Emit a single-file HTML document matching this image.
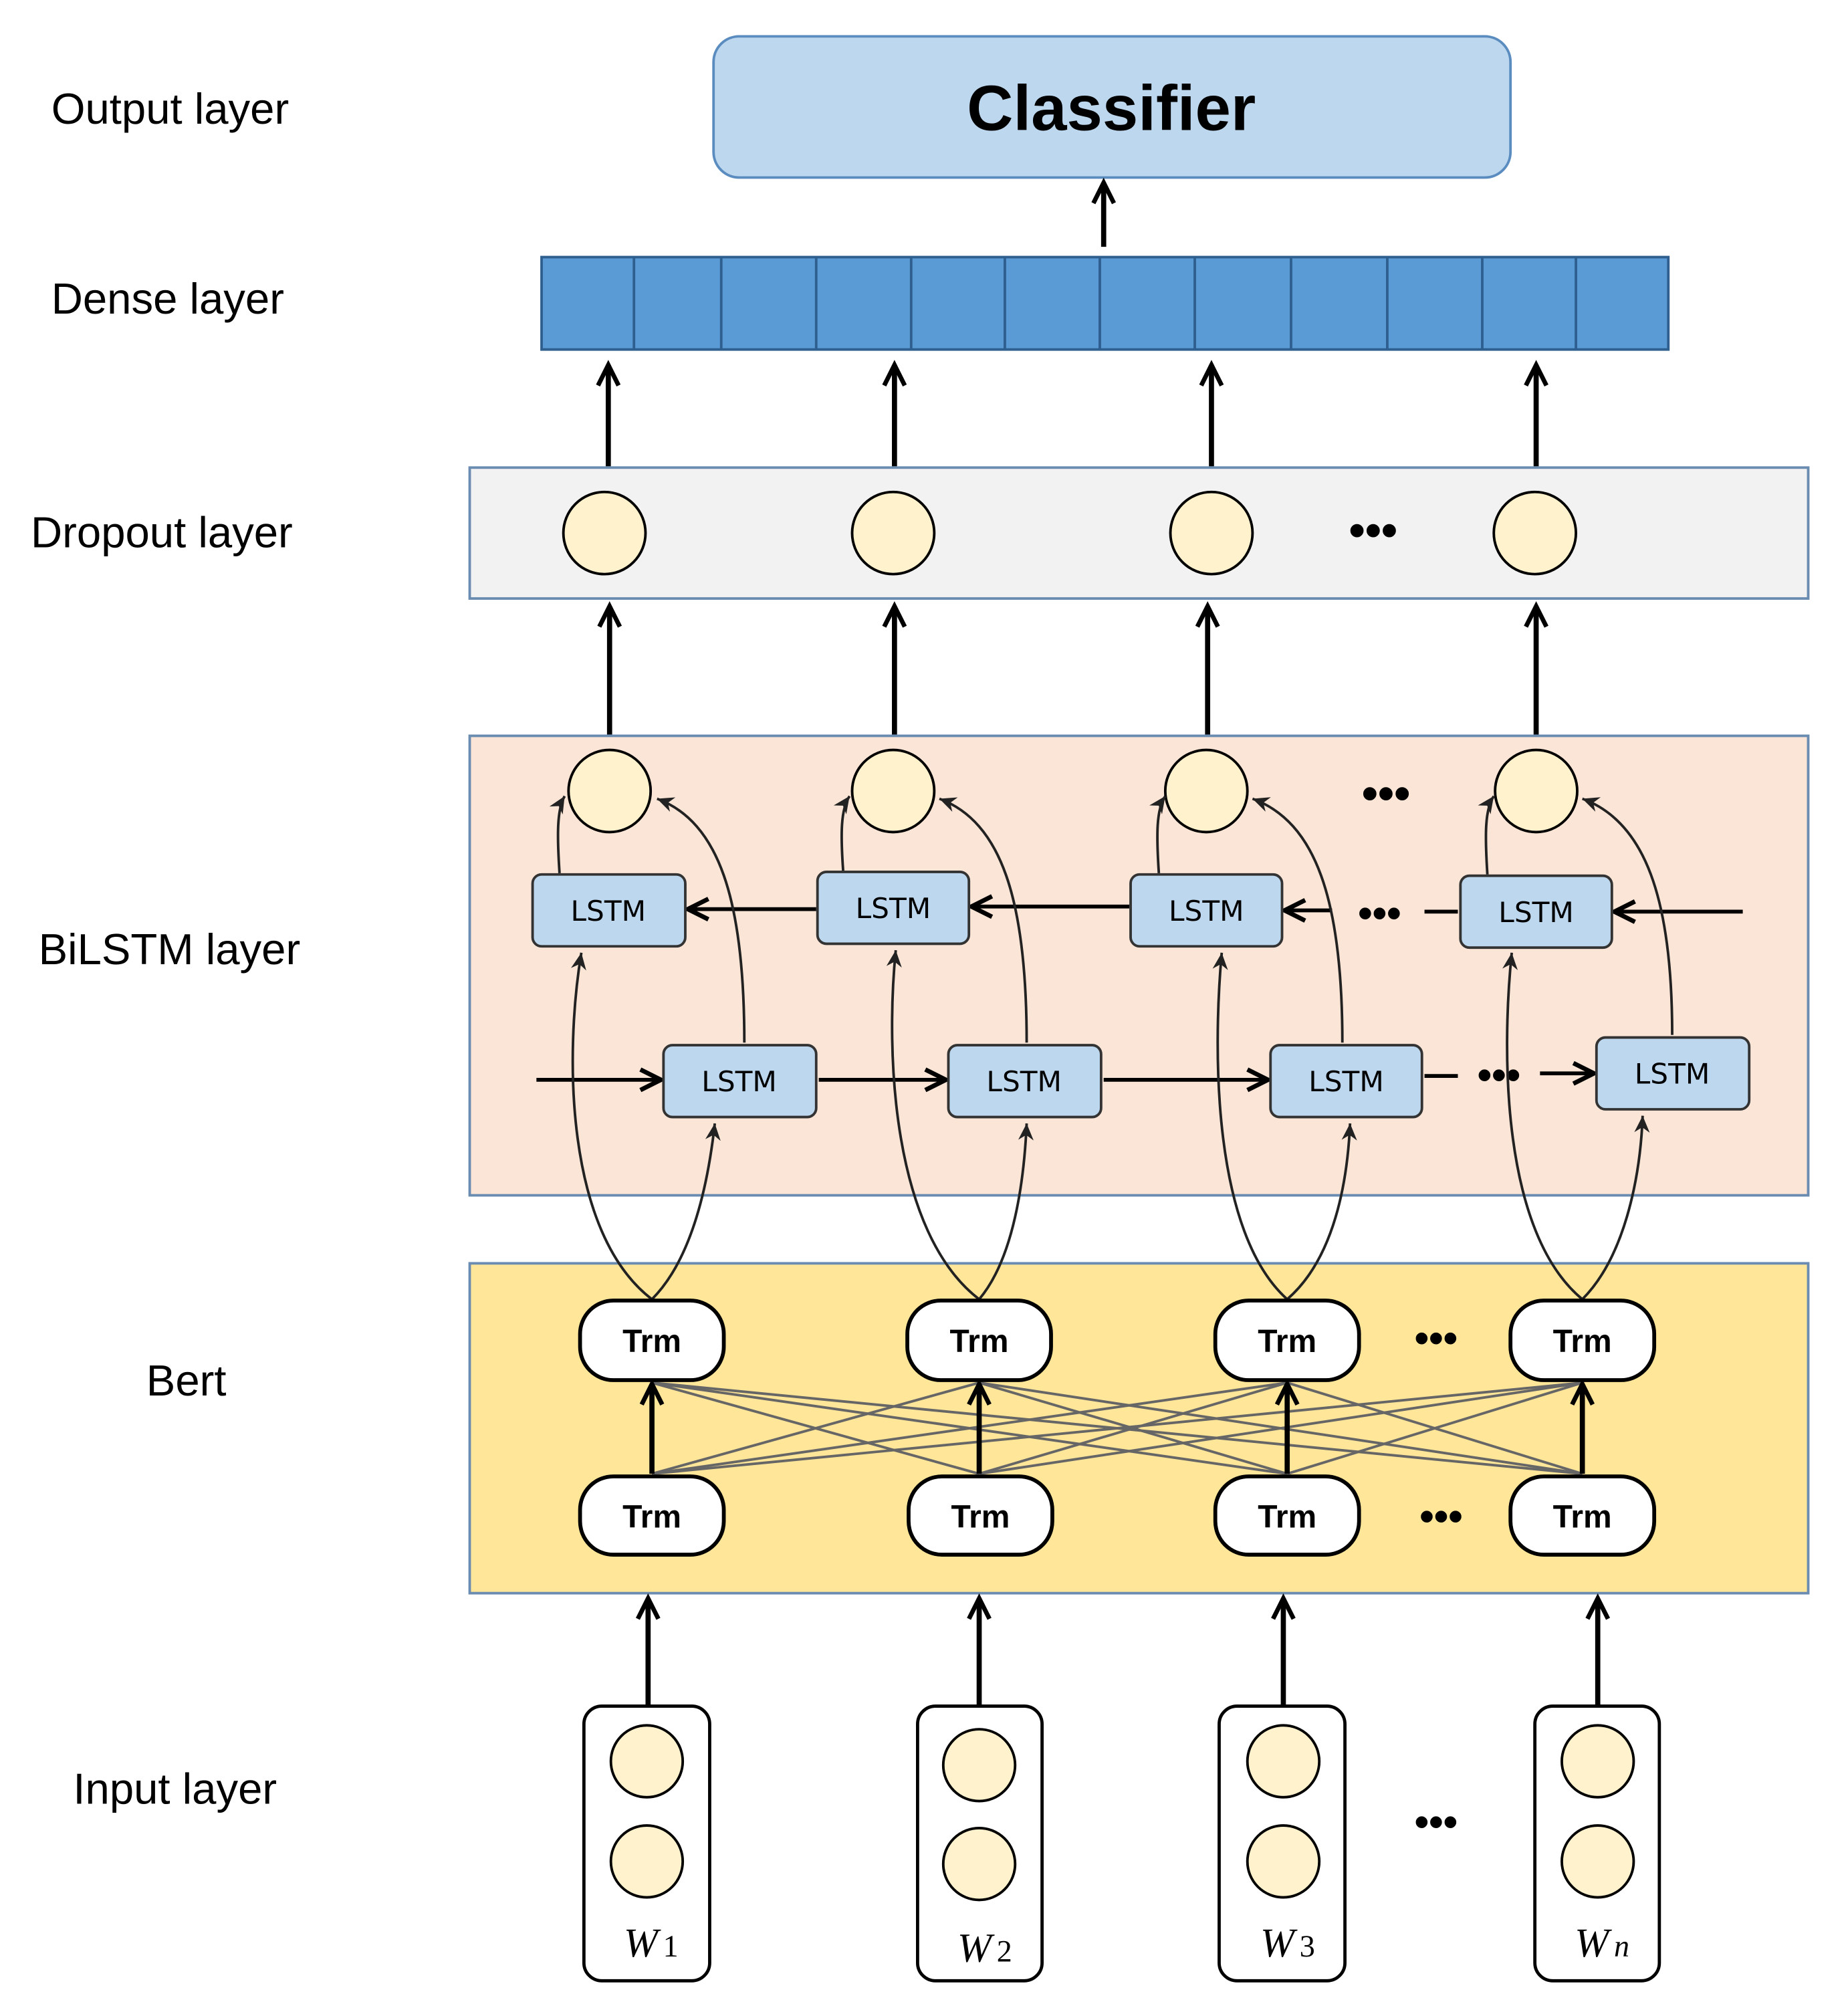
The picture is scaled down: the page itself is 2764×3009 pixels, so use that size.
<!DOCTYPE html>
<html><head><meta charset="utf-8"><style>html,body{margin:0;padding:0;background:#fff}svg{display:block}</style></head>
<body>
<svg width="2764" height="3009" viewBox="0 0 1440 1567" xmlns="http://www.w3.org/2000/svg" font-family="Liberation Sans, sans-serif">
<defs>
<marker id="ah" markerWidth="24" markerHeight="20" refX="20" refY="10" orient="auto" markerUnits="userSpaceOnUse"><path d="M4,2 L20,10 L4,18" fill="none" stroke="#000" stroke-width="3.5"/></marker>
<marker id="as" markerWidth="16" markerHeight="14" refX="14" refY="7" orient="auto" markerUnits="userSpaceOnUse"><path d="M1,1 L14,7 L1,13 L5,7Z" fill="#222"/></marker>
</defs>
<rect width="1440" height="1567" fill="#fff"/>
<g font-size="34" fill="#000">
<text x="40" y="96">Output layer</text>
<text x="40" y="244">Dense layer</text>
<text x="24" y="426">Dropout layer</text>
<text x="30" y="751">BiLSTM layer</text>
<text x="114" y="1087">Bert</text>
<text x="57" y="1405">Input layer</text>
</g>
<rect x="556" y="28" width="621" height="110" rx="20" fill="#bdd7ee" stroke="#5b8cc0" stroke-width="2"/>
<text x="866" y="101" font-size="50" font-weight="bold" text-anchor="middle">Classifier</text>
<line x1="860" y1="192" x2="860" y2="142" stroke="#000" stroke-width="4" marker-end="url(#ah)"/>
<rect x="422" y="200" width="878" height="72" fill="#5b9bd5" stroke="#2e5f8f" stroke-width="2"/>
<g stroke="#2e5f8f" stroke-width="2">
<line x1="494" y1="200" x2="494" y2="272"/><line x1="562" y1="200" x2="562" y2="272"/><line x1="636" y1="200" x2="636" y2="272"/><line x1="710" y1="200" x2="710" y2="272"/><line x1="783" y1="200" x2="783" y2="272"/><line x1="857" y1="200" x2="857" y2="272"/><line x1="931" y1="200" x2="931" y2="272"/><line x1="1006" y1="200" x2="1006" y2="272"/><line x1="1081" y1="200" x2="1081" y2="272"/><line x1="1155" y1="200" x2="1155" y2="272"/><line x1="1228" y1="200" x2="1228" y2="272"/>
</g>
<g stroke="#000" stroke-width="4" marker-end="url(#ah)">
<line x1="474" y1="363" x2="474" y2="284"/><line x1="697" y1="363" x2="697" y2="284"/><line x1="944" y1="363" x2="944" y2="284"/><line x1="1197" y1="363" x2="1197" y2="284"/>
<line x1="475" y1="572" x2="475" y2="472"/><line x1="697" y1="572" x2="697" y2="472"/><line x1="941" y1="572" x2="941" y2="472"/><line x1="1197" y1="572" x2="1197" y2="472"/>
</g>
<rect x="366" y="364" width="1043" height="102" fill="#f2f2f2" stroke="#6a8cb0" stroke-width="2"/>
<g fill="#fff2cc" stroke="#000" stroke-width="2">
<circle cx="471" cy="415" r="32"/><circle cx="696" cy="415" r="32"/><circle cx="944" cy="415" r="32"/><circle cx="1196" cy="415" r="32"/>
</g>
<text x="1070" y="425" font-size="36" font-weight="bold" text-anchor="middle">•••</text>
<rect x="366" y="573" width="1043" height="358" fill="#fbe5d6" stroke="#6a8cb0" stroke-width="2"/>
<rect x="366" y="984" width="1043" height="257" fill="#ffe699" stroke="#6a8cb0" stroke-width="2"/>
<g fill="#fff2cc" stroke="#000" stroke-width="2">
<circle cx="475" cy="616" r="32"/><circle cx="696" cy="616" r="32"/><circle cx="940" cy="616" r="32"/><circle cx="1197" cy="616" r="32"/>
</g>
<text x="1080" y="630" font-size="36" font-weight="bold" text-anchor="middle">•••</text>
<g stroke="#000" stroke-width="3" marker-end="url(#ah)">
<line x1="636" y1="708" x2="536" y2="708"/><line x1="880" y1="706" x2="757" y2="706"/><line x1="1038" y1="709" x2="1001" y2="709"/><line x1="1358" y1="710" x2="1258" y2="710"/>
<line x1="418" y1="841" x2="515" y2="841"/><line x1="638" y1="841" x2="737" y2="841"/><line x1="860" y1="841" x2="988" y2="841"/><line x1="1200" y1="836" x2="1242" y2="836"/>
</g>
<line x1="1110" y1="710" x2="1136" y2="710" stroke="#000" stroke-width="3"/>
<line x1="1110" y1="838" x2="1136" y2="838" stroke="#000" stroke-width="3"/>
<text x="1075" y="722" font-size="32" font-weight="bold" text-anchor="middle">•••</text>
<text x="1168" y="848" font-size="32" font-weight="bold" text-anchor="middle">•••</text>
<g fill="none" stroke="#222" stroke-width="2" marker-end="url(#as)">
<path d="M508,1012 C440,960 440,820 453,742"/><path d="M508,1012 C540,980 552,920 557,875"/>
<path d="M763,1012 C695,960 690,820 698,740"/><path d="M763,1012 C790,980 798,920 800,875"/>
<path d="M1003,1012 C945,960 945,820 952,742"/><path d="M1003,1012 C1040,980 1050,920 1052,875"/>
<path d="M1233,1012 C1170,960 1170,820 1178,742"/><path d="M1233,1012 C1265,980 1278,920 1280,869"/>
<path d="M436,680 C434,650 434,630 440,620"/><path d="M580,812 C580,700 560,640 512,622"/>
<path d="M657,678 C655,650 655,630 662,620"/><path d="M800,812 C800,700 780,640 732,622"/>
<path d="M903,680 C901,650 901,630 908,620"/><path d="M1046,812 C1046,700 1025,640 976,622"/>
<path d="M1159,681 C1157,650 1157,630 1164,620"/><path d="M1303,806 C1303,700 1282,640 1233,622"/>
</g>
<g fill="#bdd7ee" stroke="#333" stroke-width="2">
<rect x="415" y="681" width="119" height="56" rx="7"/><rect x="637" y="679" width="118" height="56" rx="7"/><rect x="881" y="681" width="118" height="56" rx="7"/><rect x="1138" y="682" width="118" height="56" rx="7"/>
<rect x="517" y="814" width="119" height="56" rx="7"/><rect x="739" y="814" width="119" height="56" rx="7"/><rect x="990" y="814" width="118" height="56" rx="7"/><rect x="1244" y="808" width="119" height="56" rx="7"/>
</g>
<g font-size="22" text-anchor="middle" font-family="DejaVu Sans, sans-serif">
<text x="474" y="717">LSTM</text><text x="696" y="715">LSTM</text><text x="940" y="717">LSTM</text><text x="1197" y="718">LSTM</text>
<text x="576" y="850">LSTM</text><text x="798" y="850">LSTM</text><text x="1049" y="850">LSTM</text><text x="1303" y="844">LSTM</text>
</g>
<g stroke="#666" stroke-width="2">
<line x1="508" y1="1148" x2="763" y2="1077"/><line x1="508" y1="1148" x2="1003" y2="1077"/><line x1="508" y1="1148" x2="1233" y2="1077"/>
<line x1="763" y1="1148" x2="508" y2="1077"/><line x1="763" y1="1148" x2="1003" y2="1077"/><line x1="763" y1="1148" x2="1233" y2="1077"/>
<line x1="1003" y1="1148" x2="508" y2="1077"/><line x1="1003" y1="1148" x2="763" y2="1077"/><line x1="1003" y1="1148" x2="1233" y2="1077"/>
<line x1="1233" y1="1148" x2="508" y2="1077"/><line x1="1233" y1="1148" x2="763" y2="1077"/><line x1="1233" y1="1148" x2="1003" y2="1077"/>
</g>
<g stroke="#000" stroke-width="4" marker-end="url(#ah)">
<line x1="508" y1="1148" x2="508" y2="1078"/><line x1="763" y1="1148" x2="763" y2="1078"/><line x1="1003" y1="1148" x2="1003" y2="1078"/><line x1="1233" y1="1148" x2="1233" y2="1078"/>
</g>
<g fill="#fff" stroke="#000" stroke-width="3">
<rect x="452" y="1013" width="112" height="62" rx="26"/><rect x="707" y="1013" width="112" height="62" rx="26"/><rect x="947" y="1013" width="112" height="62" rx="26"/><rect x="1177" y="1013" width="112" height="62" rx="26"/>
<rect x="452" y="1150" width="112" height="61" rx="26"/><rect x="708" y="1150" width="112" height="61" rx="26"/><rect x="947" y="1150" width="112" height="61" rx="26"/><rect x="1177" y="1150" width="112" height="61" rx="26"/>
</g>
<g font-size="25" font-weight="bold" text-anchor="middle">
<text x="508" y="1053">Trm</text><text x="763" y="1053">Trm</text><text x="1003" y="1053">Trm</text><text x="1233" y="1053">Trm</text>
<text x="508" y="1190">Trm</text><text x="764" y="1190">Trm</text><text x="1003" y="1190">Trm</text><text x="1233" y="1190">Trm</text>
</g>
<text x="1119" y="1053" font-size="32" font-weight="bold" text-anchor="middle">•••</text>
<text x="1123" y="1192" font-size="32" font-weight="bold" text-anchor="middle">•••</text>
<g stroke="#000" stroke-width="4" marker-end="url(#ah)">
<line x1="505" y1="1328" x2="505" y2="1245"/><line x1="763" y1="1328" x2="763" y2="1245"/><line x1="1000" y1="1328" x2="1000" y2="1245"/><line x1="1245" y1="1328" x2="1245" y2="1245"/>
</g>
<g fill="#fff" stroke="#000" stroke-width="2.5">
<rect x="455" y="1329" width="98" height="214" rx="14"/><rect x="715" y="1329" width="97" height="214" rx="14"/><rect x="950" y="1329" width="98" height="214" rx="14"/><rect x="1196" y="1329" width="97" height="214" rx="14"/>
</g>
<g fill="#fff2cc" stroke="#000" stroke-width="2">
<circle cx="504" cy="1372" r="28"/><circle cx="504" cy="1450" r="28"/>
<circle cx="763" cy="1375" r="28"/><circle cx="763" cy="1452" r="28"/>
<circle cx="1000" cy="1372" r="28"/><circle cx="1000" cy="1450" r="28"/>
<circle cx="1245" cy="1372" r="28"/><circle cx="1245" cy="1450" r="28"/>
</g>
<g font-family="Liberation Serif, serif" font-size="32" font-style="italic">
<text x="486" y="1524">W<tspan font-size="24" font-style="normal" dx="4">1</tspan></text>
<text x="746" y="1528">W<tspan font-size="24" font-style="normal" dx="4">2</tspan></text>
<text x="982" y="1524">W<tspan font-size="24" font-style="normal" dx="4">3</tspan></text>
<text x="1227" y="1524">W<tspan font-size="24" dx="4">n</tspan></text>
</g>
<text x="1119" y="1430" font-size="32" font-weight="bold" text-anchor="middle">•••</text>
</svg>
</body></html>
